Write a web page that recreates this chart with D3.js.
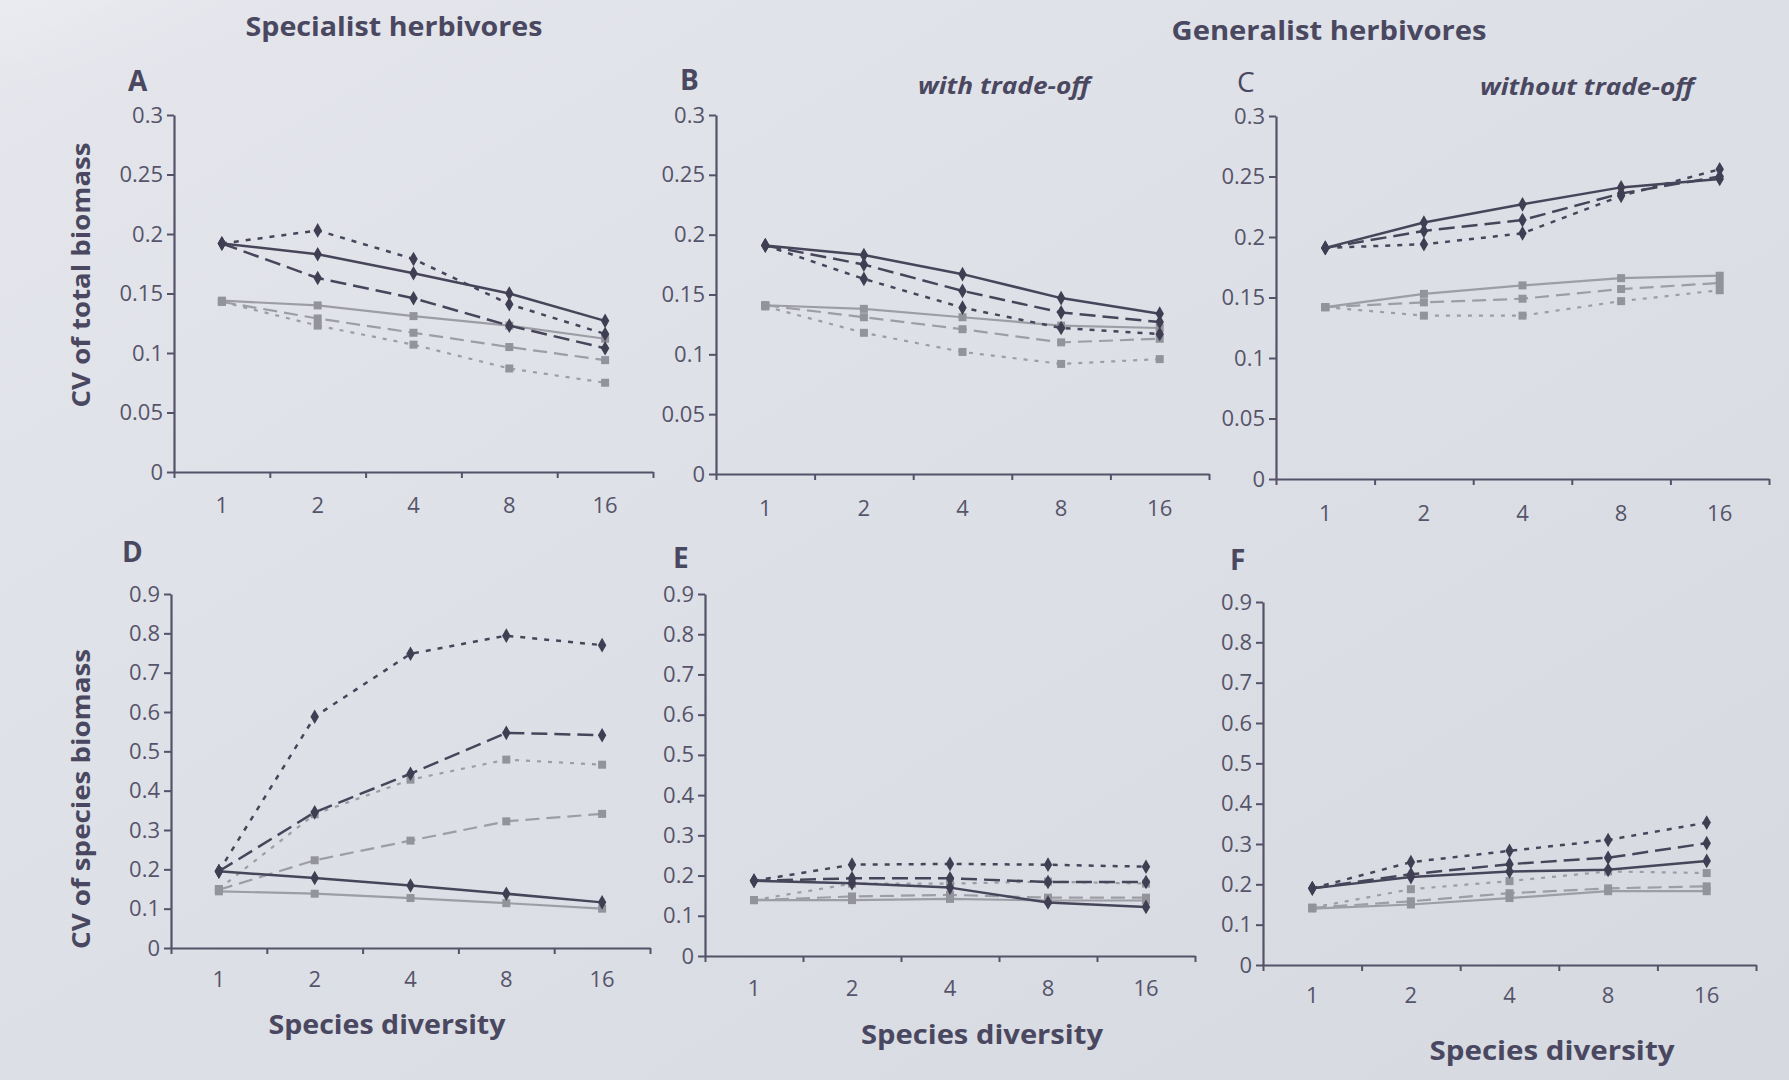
<!DOCTYPE html>
<html>
<head>
<meta charset="utf-8">
<script src="https://cdn.jsdelivr.net/npm/d3@7"></script>
<style>
  html, body { margin: 0; padding: 0; background: #dcdfe6; }
  svg { display: block; }
</style>
</head>
<body>
<svg id="fig" width="1789" height="1080"></svg>
<script>
// Species diversity levels (categorical x axis)
const diversity = ["1", "2", "4", "8", "16"];

// Y tick values for the two rows of panels
const ticksTotal = [0, 0.05, 0.1, 0.15, 0.2, 0.25, 0.3];
const ticksSpecies = [0, 0.1, 0.2, 0.3, 0.4, 0.5, 0.6, 0.7, 0.8, 0.9];

// Series order in each panel table below:
// dark solid, dark dashed, dark dotted, grey solid, grey dashed, grey dotted
const seriesKeys = ["darkSolid", "darkDashed", "darkDotted", "greySolid", "greyDashed", "greyDotted"];

// A: CV of total biomass, specialist herbivores
const totalSpecialist = [
  [0.192, 0.183, 0.167, 0.150, 0.127],
  [0.192, 0.163, 0.146, 0.123, 0.104],
  [0.192, 0.203, 0.179, 0.141, 0.116],
  [0.144, 0.140, 0.131, 0.123, 0.112],
  [0.143, 0.129, 0.117, 0.105, 0.094],
  [0.143, 0.123, 0.107, 0.087, 0.075]
];
// B: CV of total biomass, generalists with trade-off
const totalGeneralistTradeoff = [
  [0.191, 0.183, 0.167, 0.147, 0.134],
  [0.191, 0.175, 0.153, 0.135, 0.127],
  [0.191, 0.163, 0.139, 0.122, 0.117],
  [0.141, 0.138, 0.131, 0.124, 0.122],
  [0.141, 0.131, 0.121, 0.110, 0.113],
  [0.140, 0.118, 0.102, 0.092, 0.096]
];
// C: CV of total biomass, generalists without trade-off
const totalGeneralistNoTradeoff = [
  [0.191, 0.212, 0.227, 0.241, 0.248],
  [0.191, 0.205, 0.214, 0.236, 0.250],
  [0.191, 0.194, 0.203, 0.234, 0.256],
  [0.142, 0.153, 0.160, 0.166, 0.168],
  [0.142, 0.146, 0.149, 0.157, 0.162],
  [0.142, 0.135, 0.135, 0.147, 0.156]
];
// D: CV of species biomass, specialist herbivores
const speciesSpecialist = [
  [0.195, 0.178, 0.159, 0.138, 0.116],
  [0.195, 0.345, 0.443, 0.547, 0.541],
  [0.195, 0.588, 0.748, 0.794, 0.770],
  [0.144, 0.138, 0.127, 0.114, 0.100],
  [0.148, 0.223, 0.273, 0.322, 0.341],
  [0.150, 0.340, 0.428, 0.479, 0.466]
];
// E: CV of species biomass, generalists with trade-off
const speciesGeneralistTradeoff = [
  [0.187, 0.181, 0.170, 0.133, 0.122],
  [0.187, 0.193, 0.193, 0.184, 0.184],
  [0.187, 0.227, 0.229, 0.227, 0.222],
  [0.139, 0.139, 0.142, 0.138, 0.138],
  [0.139, 0.148, 0.152, 0.145, 0.145],
  [0.139, 0.180, 0.180, 0.185, 0.180]
];
// F: CV of species biomass, generalists without trade-off
const speciesGeneralistNoTradeoff = [
  [0.190, 0.218, 0.232, 0.236, 0.258],
  [0.190, 0.225, 0.250, 0.266, 0.302],
  [0.190, 0.255, 0.283, 0.310, 0.353],
  [0.140, 0.150, 0.166, 0.183, 0.183],
  [0.142, 0.158, 0.178, 0.190, 0.195],
  [0.142, 0.188, 0.208, 0.232, 0.228]
];

// Line/marker styling for each series
const styles = {
  darkSolid:  { stroke: "#47455a", width: 2.5, dash: null,   marker: "diamond", fill: "#403e52" },
  darkDashed: { stroke: "#47455a", width: 2.5, dash: "16,7", marker: "diamond", fill: "#403e52" },
  darkDotted: { stroke: "#47455a", width: 2.5, dash: "5,7",  marker: "diamond", fill: "#403e52" },
  greySolid:  { stroke: "#9d9da6", width: 2.2, dash: null,   marker: "square",  fill: "#93939c" },
  greyDashed: { stroke: "#9d9da6", width: 2.2, dash: "14,7", marker: "square",  fill: "#93939c" },
  greyDotted: { stroke: "#9d9da6", width: 2.2, dash: "4,7",  marker: "square",  fill: "#93939c" }
};

// Panel placement
const panels = [
  { id: "A", rows: totalSpecialist,            ticks: ticksTotal,   x0: 174,  x1: 653,  yTop: 115, y0: 472, labelY: 505 },
  { id: "B", rows: totalGeneralistTradeoff,    ticks: ticksTotal,   x0: 716,  x1: 1209, yTop: 115, y0: 474, labelY: 508 },
  { id: "C", rows: totalGeneralistNoTradeoff,  ticks: ticksTotal,   x0: 1276, x1: 1769, yTop: 116, y0: 479, labelY: 513 },
  { id: "D", rows: speciesSpecialist,          ticks: ticksSpecies, x0: 171,  x1: 650,  yTop: 594, y0: 948, labelY: 979 },
  { id: "E", rows: speciesGeneralistTradeoff,  ticks: ticksSpecies, x0: 705,  x1: 1195, yTop: 594, y0: 956, labelY: 988 },
  { id: "F", rows: speciesGeneralistNoTradeoff,ticks: ticksSpecies, x0: 1263, x1: 1756, yTop: 602, y0: 965, labelY: 995 }
];

const ink = "#4a4860";
const axisInk = "#545268";
const font = "'Open Sans', 'Noto Sans', sans-serif";

const svg = d3.select("#fig");

// paper background with a soft glare in the top-left corner
const defs = svg.append("defs");
const glare = defs.append("radialGradient").attr("id", "glare")
  .attr("cx", "0").attr("cy", "0").attr("r", "1");
glare.append("stop").attr("offset", "0%").attr("stop-color", "#ffffff").attr("stop-opacity", 0.75);
glare.append("stop").attr("offset", "100%").attr("stop-color", "#ffffff").attr("stop-opacity", 0);
const shade = defs.append("linearGradient").attr("id", "shade")
  .attr("x1", "0").attr("y1", "0").attr("x2", "1").attr("y2", "1");
shade.append("stop").attr("offset", "0%").attr("stop-color", "#e4e6ec");
shade.append("stop").attr("offset", "100%").attr("stop-color", "#d6d9e0");
svg.append("rect").attr("width", 1789).attr("height", 1080).attr("fill", "url(#shade)");
svg.append("ellipse").attr("cx", 0).attr("cy", 0).attr("rx", 420).attr("ry", 160).attr("fill", "url(#glare)");

const fmt = d => d === 0 ? "0" : String(d);

panels.forEach(p => {
  const g = svg.append("g");
  const x = d3.scaleBand().domain(diversity).range([p.x0, p.x1]);
  const xEdge = d3.scaleLinear().domain([0, diversity.length]).range([p.x0, p.x1]);
  const y = d3.scaleLinear().domain([0, d3.max(p.ticks)]).range([p.y0, p.yTop]);

  // x axis line with ticks between categories
  const xa = g.append("g").attr("transform", `translate(0,${p.y0})`)
    .call(d3.axisBottom(xEdge).tickValues(d3.range(diversity.length + 1)).tickFormat("").tickSize(6).tickSizeOuter(0));
  // category labels centred in each band
  const xl = g.append("g").attr("transform", `translate(0,${p.y0})`)
    .call(d3.axisBottom(x).tickSize(0).tickPadding(p.labelY - p.y0 - 8));
  xl.select(".domain").remove();

  // y axis
  const ya = g.append("g").attr("transform", `translate(${p.x0},0)`)
    .call(d3.axisLeft(y).tickValues(p.ticks).tickFormat(fmt).tickSize(7).tickPadding(4).tickSizeOuter(0));

  [xa, ya].forEach(a => {
    a.select(".domain").attr("stroke", axisInk).attr("stroke-width", 2.2);
    a.selectAll(".tick line").attr("stroke", axisInk).attr("stroke-width", 2);
  });
  [xl, ya].forEach(a => a.selectAll("text")
    .attr("fill", "#56546a").attr("font-family", font).attr("font-size", 22));

  // series: grey first, dark on top
  const order = [3, 4, 5, 0, 1, 2];
  const line = d3.line().x((d, i) => x(diversity[i]) + x.bandwidth() / 2).y(d => y(d));
  order.forEach(k => {
    const st = styles[seriesKeys[k]];
    const vals = p.rows[k];
    g.append("path").datum(vals)
      .attr("d", line)
      .attr("fill", "none")
      .attr("stroke", st.stroke)
      .attr("stroke-width", st.width)
      .attr("stroke-dasharray", st.dash)
      .attr("stroke-linejoin", "round");
    const sym = d3.symbol()
      .type(st.marker === "diamond" ? d3.symbolDiamond : d3.symbolSquare)
      .size(st.marker === "diamond" ? 62 : 64);
    g.selectAll(null).data(vals).join("path")
      .attr("transform", (d, i) => `translate(${x(diversity[i]) + x.bandwidth() / 2},${y(d)})`)
      .attr("d", sym)
      .attr("fill", st.fill);
  });
});

// text
function txt(s, x, y, opts) {
  const t = svg.append("text").text(s)
    .attr("x", x).attr("y", y)
    .attr("font-family", font)
    .attr("font-size", opts.size || 26)
    .attr("font-weight", opts.weight || 700)
    .attr("font-style", opts.style || "normal")
    .attr("fill", opts.fill || ink)
    .attr("text-anchor", opts.anchor || "middle");
  if (opts.len) t.attr("textLength", opts.len).attr("lengthAdjust", "spacingAndGlyphs");
  if (opts.rotate) t.attr("transform", `rotate(-90,${x},${y})`);
  return t;
}

txt("Specialist herbivores", 394, 36, { size: 27, len: 297 });
txt("Generalist herbivores", 1329, 40, { size: 27, len: 315 });

txt("with trade-off", 1004, 94, { size: 23, style: "italic", len: 172 });
txt("without trade-off", 1587, 95, { size: 23, style: "italic", len: 214 });

txt("A", 128, 91, { size: 28, anchor: "start" });
txt("B", 680, 90, { size: 28, anchor: "start" });
txt("C", 1237, 92, { size: 28, anchor: "start", weight: 400 });
txt("D", 122, 562, { size: 28, anchor: "start" });
txt("E", 673, 568, { size: 28, anchor: "start" });
txt("F", 1230, 570, { size: 28, anchor: "start" });

txt("CV of total biomass", 90, 275, { size: 25, len: 265, rotate: true });
txt("CV of species biomass", 90, 799, { size: 25, len: 300, rotate: true });

txt("Species diversity", 387, 1034, { size: 27, len: 237 });
txt("Species diversity", 982, 1044, { size: 27, len: 242 });
txt("Species diversity", 1552, 1060, { size: 27, len: 245 });
</script>
</body>
</html>
